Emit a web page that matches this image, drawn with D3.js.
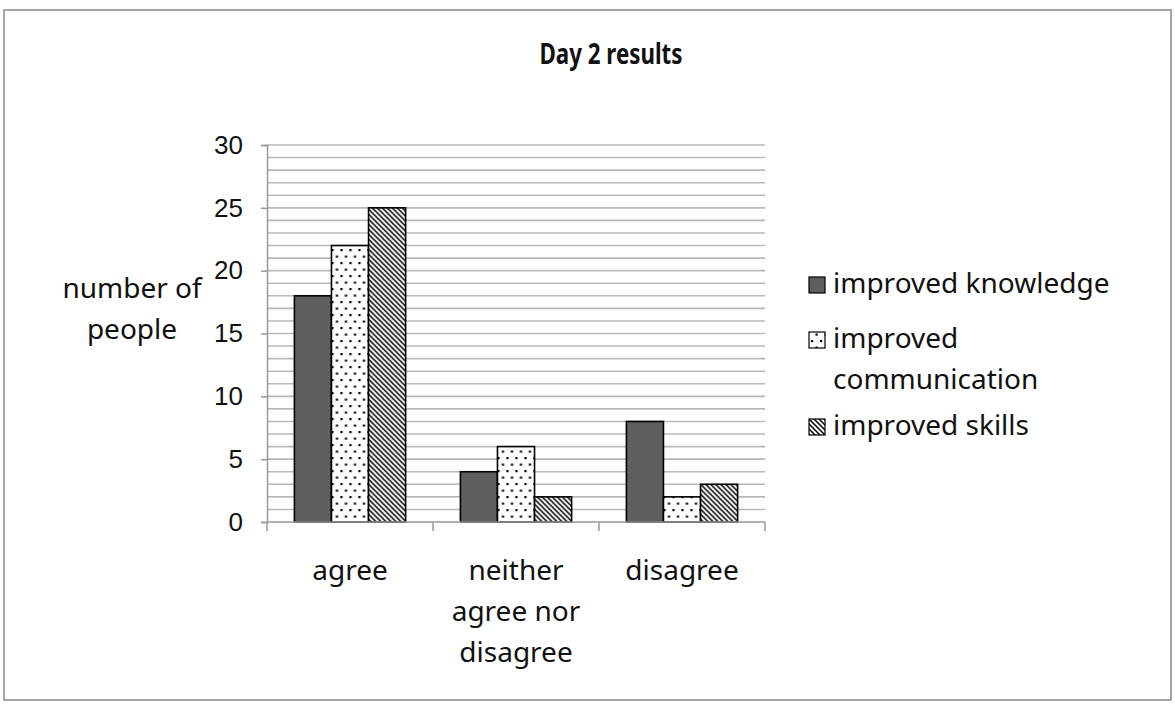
<!DOCTYPE html>
<html>
<head>
<meta charset="utf-8">
<script src="https://cdn.jsdelivr.net/npm/d3@7"></script>
<style>
  html, body { margin: 0; padding: 0; background: #fff; }
  text { font-family: "Noto Sans", "Open Sans", sans-serif; fill: #111; }
</style>
</head>
<body>
<div id="chart"></div>
<script>
// Chart values
const categories = ["agree", "neither agree nor disagree", "disagree"];
const categoryLines = [["agree"], ["neither", "agree nor", "disagree"], ["disagree"]];
const seriesNames = ["improved knowledge", "improved communication", "improved skills"];
const legendLines = [["improved knowledge"], ["improved", "communication"], ["improved skills"]];
const knowledge = [18, 4, 8];
const communication = [22, 6, 2];
const skills = [25, 2, 3];
const yTicks = [0, 5, 10, 15, 20, 25, 30];

const values = [knowledge, communication, skills];

const W = 1175, H = 708;
const plot = {left: 267, right: 765, top: 145, bottom: 522};

const svg = d3.select("#chart").append("svg")
    .attr("width", W)
    .attr("height", H);

// Fill patterns: staggered dots and back-slash hatching
const defs = svg.append("defs");
const dots = defs.append("pattern")
    .attr("id", "dots")
    .attr("patternUnits", "userSpaceOnUse")
    .attr("width", 9).attr("height", 13);
dots.append("rect").attr("width", 9).attr("height", 13).attr("fill", "#fff");
dots.append("rect").attr("x", 1).attr("y", 2).attr("width", 2.2).attr("height", 2.2).attr("fill", "#000");
dots.append("rect").attr("x", 5.5).attr("y", 8.5).attr("width", 2.2).attr("height", 2.2).attr("fill", "#000");

const hatch = defs.append("pattern")
    .attr("id", "hatch")
    .attr("patternUnits", "userSpaceOnUse")
    .attr("width", 5).attr("height", 5);
hatch.append("rect").attr("width", 5).attr("height", 5).attr("fill", "#fff");
hatch.append("path")
    .attr("d", "M-1,-1 L6,6 M-1,4 L1,6 M4,-1 L6,1")
    .attr("stroke", "#000")
    .attr("stroke-width", 1.5);

const fills = ["#5e5e5e", "url(#dots)", "url(#hatch)"];

// Outer frame
svg.append("rect")
    .attr("x", 4).attr("y", 10)
    .attr("width", 1167).attr("height", 690)
    .attr("fill", "#fff")
    .attr("stroke", "#a6a6a6")
    .attr("stroke-width", 2);

// Title (condensed bold look)
svg.append("text")
    .attr("x", 611).attr("y", 64)
    .attr("text-anchor", "middle")
    .attr("textLength", 143)
    .attr("lengthAdjust", "spacingAndGlyphs")
    .style("font-size", "29px")
    .style("font-weight", "bold")
    .text("Day 2 results");

const x0 = d3.scaleBand()
    .domain(categories)
    .range([plot.left, plot.right])
    .paddingInner(0.33)
    .paddingOuter(0.165);

const x1 = d3.scaleBand()
    .domain(seriesNames)
    .range([0, x0.bandwidth()]);

const y = d3.scaleLinear()
    .domain([0, 30])
    .range([plot.bottom, plot.top]);

// Horizontal gridlines every unit
svg.append("g")
    .selectAll("line")
    .data(d3.range(1, 31))
    .join("line")
    .attr("x1", plot.left).attr("x2", plot.right)
    .attr("y1", d => y(d)).attr("y2", d => y(d))
    .attr("stroke", "#b8b8b8")
    .attr("stroke-width", 1.6);

// Bars
const groups = svg.append("g")
    .selectAll("g")
    .data(categories)
    .join("g")
    .attr("transform", d => `translate(${x0(d)},0)`);

groups.selectAll("rect")
    .data((c, i) => seriesNames.map((s, j) => ({series: s, idx: j, value: values[j][i]})))
    .join("rect")
    .attr("x", d => x1(d.series))
    .attr("y", d => y(d.value))
    .attr("width", x1.bandwidth())
    .attr("height", d => y(0) - y(d.value))
    .attr("fill", d => fills[d.idx])
    .attr("stroke", "#000")
    .attr("stroke-width", 1.6);

// Y axis
const yAxis = svg.append("g")
    .attr("transform", `translate(${plot.left},0)`)
    .call(d3.axisLeft(y).tickValues(yTicks).tickSize(6).tickPadding(18));
yAxis.select(".domain").attr("stroke", "#999").attr("stroke-width", 1.5);
yAxis.selectAll(".tick line").attr("stroke", "#999").attr("stroke-width", 1.5);
yAxis.selectAll(".tick text")
    .style("font-family", "'Liberation Sans', Arial, sans-serif")
    .style("font-size", "26px")
    .attr("fill", "#111");

// X axis with boundary ticks between categories
const boundaries = d3.range(categories.length + 1)
    .map(i => plot.left + i * (plot.right - plot.left) / categories.length);
const xAxis = svg.append("g");
xAxis.append("line")
    .attr("x1", plot.left).attr("x2", plot.right)
    .attr("y1", plot.bottom).attr("y2", plot.bottom)
    .attr("stroke", "#999").attr("stroke-width", 1.5);
xAxis.selectAll(".bt")
    .data(boundaries)
    .join("line")
    .attr("class", "bt")
    .attr("x1", d => d).attr("x2", d => d)
    .attr("y1", plot.bottom).attr("y2", plot.bottom + 9)
    .attr("stroke", "#999").attr("stroke-width", 1.5);

// Category labels
categories.forEach((c, i) => {
    const cx = x0(c) + x0.bandwidth() / 2;
    const t = svg.append("text")
        .attr("x", cx)
        .attr("y", 580)
        .attr("text-anchor", "middle")
        .style("font-size", "28px");
    categoryLines[i].forEach((line, k) => {
        t.append("tspan")
            .attr("x", cx)
            .attr("dy", k === 0 ? 0 : 41)
            .text(line);
    });
});

// Y axis title
const yt = svg.append("text")
    .attr("x", 132).attr("y", 298)
    .attr("text-anchor", "middle")
    .style("font-size", "28px");
yt.append("tspan").attr("x", 132).text("number of");
yt.append("tspan").attr("x", 132).attr("dy", 41).text("people");

// Legend
const legendY = [285, 340, 427];
seriesNames.forEach((s, i) => {
    svg.append("rect")
        .attr("x", 809).attr("y", legendY[i] - 8)
        .attr("width", 16).attr("height", 16)
        .attr("fill", fills[i])
        .attr("stroke", "#000")
        .attr("stroke-width", 1.2);
    const t = svg.append("text")
        .attr("x", 833).attr("y", legendY[i] + 8)
        .style("font-size", "28px");
    legendLines[i].forEach((line, k) => {
        t.append("tspan")
            .attr("x", 833)
            .attr("dy", k === 0 ? 0 : 41)
            .text(line);
    });
});
</script>
</body>
</html>
